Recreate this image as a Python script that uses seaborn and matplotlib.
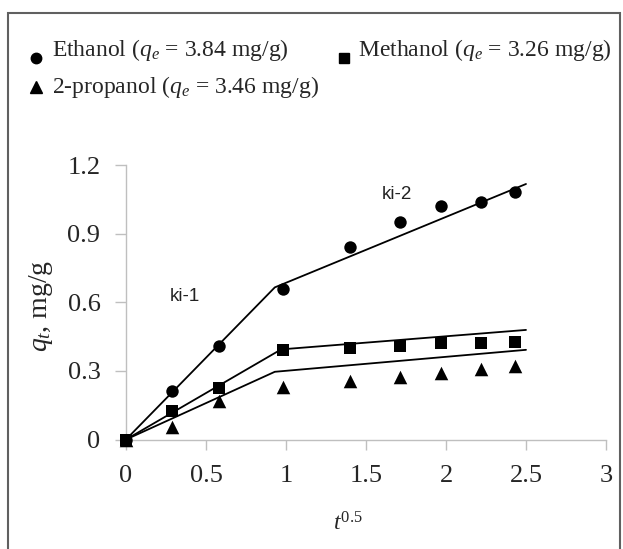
import matplotlib
matplotlib.use("Agg")
import matplotlib.pyplot as plt
import numpy as np
import pandas as pd
import seaborn as sns
from matplotlib.patches import Rectangle
from matplotlib.lines import Line2D

# ---- data ----
t_sqrt = [0, 0.29, 0.58, 0.98, 1.40, 1.71, 1.97, 2.22, 2.43]
ethanol = [0, 0.21, 0.41, 0.66, 0.84, 0.95, 1.02, 1.04, 1.08]
methanol = [0, 0.125, 0.225, 0.39, 0.40, 0.41, 0.42, 0.42, 0.425]
propanol = [0, 0.056, 0.17, 0.228, 0.257, 0.275, 0.292, 0.307, 0.32]

ethanol_fit_x = [0, 0.93, 2.5]
ethanol_fit = [0, 0.665, 1.117]
methanol_fit_x = [0, 0.97, 2.5]
methanol_fit = [0, 0.394, 0.479]
propanol_fit_x = [0, 0.93, 2.5]
propanol_fit = [0, 0.296, 0.392]

series_names = ["Ethanol", "Methanol", "2-propanol"]
legend_labels = [r"Ethanol ($q_e$ = 3.84 mg/g)",
                 r"Methanol ($q_e$ = 3.26 mg/g)",
                 r"2-propanol ($q_e$ = 3.46 mg/g)"]
x_ticks = [0, 0.5, 1, 1.5, 2, 2.5, 3]
x_tick_labels = ["0", "0.5", "1", "1.5", "2", "2.5", "3"]
y_ticks = [0, 0.3, 0.6, 0.9, 1.2]
y_tick_labels = ["0", "0.3", "0.6", "0.9", "1.2"]
annotations = [("ki-1", 0.369, 0.624), ("ki-2", 1.692, 1.069)]

# ---- tables ----
points = pd.DataFrame({
    "x": t_sqrt * 3,
    "y": ethanol + methanol + propanol,
    "series": sum([[n] * len(t_sqrt) for n in series_names], []),
})
fits = pd.DataFrame({
    "x": ethanol_fit_x + methanol_fit_x + propanol_fit_x,
    "y": ethanol_fit + methanol_fit + propanol_fit,
    "series": sum([[n] * 3 for n in series_names], []),
})

sns.set_theme(style="white")
plt.rcParams["font.family"] = ["Liberation Serif", "DejaVu Serif"]
plt.rcParams["mathtext.fontset"] = "custom"
plt.rcParams["mathtext.rm"] = "Liberation Serif"
plt.rcParams["mathtext.it"] = "Liberation Serif:italic"

W, H = 623, 549
fig = plt.figure(figsize=(W / 100, H / 100), dpi=100)
ax = fig.add_axes([126 / W, 1 - 439.5 / H, 480 / W, 274.5 / H])

markers = {"Ethanol": "o", "Methanol": "s", "2-propanol": "^"}
sizes = {"Ethanol": 80, "Methanol": 75, "2-propanol": 95}

for name in series_names:
    sub = fits[fits.series == name]
    sns.lineplot(data=sub, x="x", y="y", ax=ax, color="black", linewidth=1.3,
                 sort=False, estimator=None, legend=False)
for name in series_names:
    sub = points[points.series == name]
    sns.scatterplot(data=sub, x="x", y="y", ax=ax, marker=markers[name],
                    s=sizes[name], color="black", edgecolor="black",
                    linewidth=0, legend=False, clip_on=False, zorder=5)

ax.set_xlim(0, 3)
ax.set_ylim(0, 1.2)
ax.set_xticks(x_ticks)
ax.set_xticklabels(x_tick_labels)
ax.set_yticks(y_ticks)
ax.set_yticklabels(y_tick_labels)
ax.tick_params(axis="x", length=7.2, width=1, color="#bfbfbf", pad=11,
               labelsize=19, direction="out", bottom=True)
ax.tick_params(axis="y", length=7.9, width=1, color="#bfbfbf", pad=10.5,
               labelsize=19, direction="out", left=True)
for s in ["top", "right"]:
    ax.spines[s].set_visible(False)
for s in ["left", "bottom"]:
    ax.spines[s].set_color("#bfbfbf")
    ax.spines[s].set_linewidth(1)
ax.set_xlabel("")
ax.set_ylabel("")

fig.text(348 / W, 1 - 524 / H, r"$t^{0.5}$", ha="center", va="center", fontsize=17)
fig.text(41 / W, 1 - 306 / H, r"$q_t$, mg/g", ha="center", va="center",
         rotation=90, fontsize=20)

for txt, x, y in annotations:
    ax.text(x, y, txt, ha="center", va="center", fontsize=13.5,
            family=["Liberation Sans", "DejaVu Sans"], color="#222222")

# ---- legend (circle/square sit low, near the text baseline, as in the reference) ----
legend_pos = {  # marker centre (px), text left (px), baseline (px)
    "Ethanol": (36, 58, 52, 56),
    "Methanol": (344, 58, 358, 56),
    "2-propanol": (36, 87, 52, 93),
}
legend_ms = {"Ethanol": 7.5, "Methanol": 7.5, "2-propanol": 8.5}
for name, label in zip(series_names, legend_labels):
    mx, my, tx, ty = legend_pos[name]
    fig.add_artist(Line2D([mx / W], [1 - my / H], transform=fig.transFigure,
                          linestyle="none", marker=markers[name], color="black",
                          markersize=legend_ms[name]))
    fig.text(tx / W, 1 - ty / H, label, ha="left", va="baseline", fontsize=17)

fig.patches.append(Rectangle((8 / W, -0.1), (620 - 8) / W, 1.1 - 13 / H,
                             transform=fig.transFigure, fill=False,
                             edgecolor="#606060", linewidth=1.5))

fig.savefig("out.png", dpi=100)
